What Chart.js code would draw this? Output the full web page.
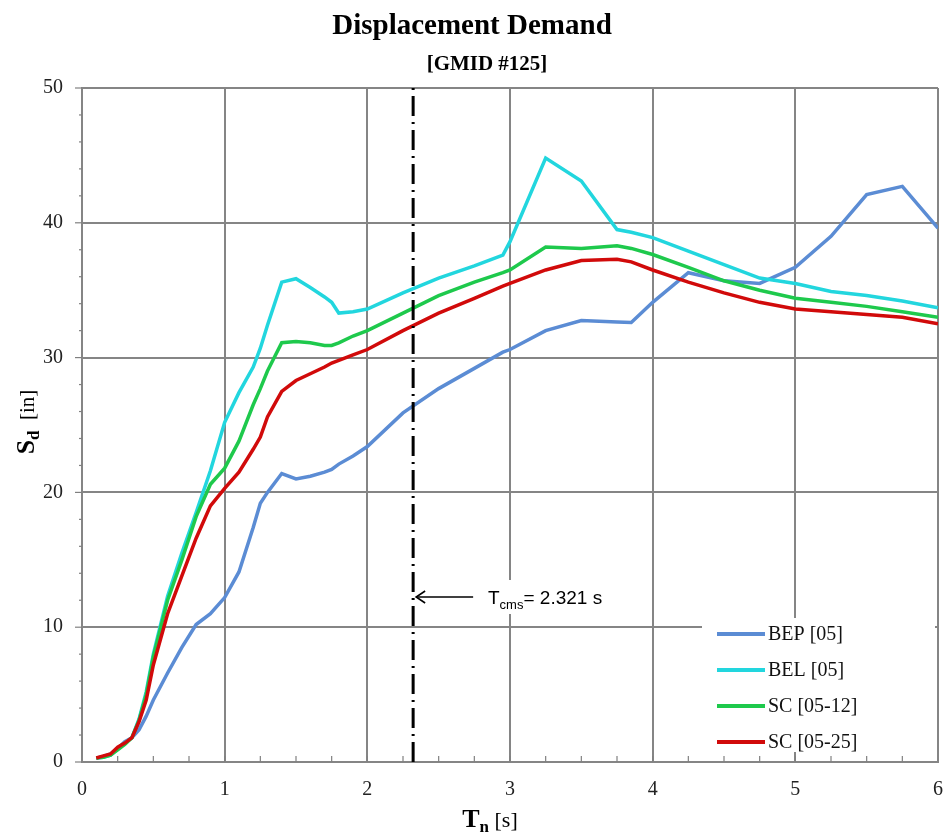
<!DOCTYPE html>
<html>
<head>
<meta charset="utf-8">
<script src="https://cdn.jsdelivr.net/npm/chart.js@4.4.1/dist/chart.umd.min.js"></script>
<style>
  html, body { margin: 0; padding: 0; background: #fff; }
  #wrap { width: 946px; height: 839px; position: relative; }
</style>
</head>
<body>
<div id="wrap"><canvas id="chart"></canvas></div>
<script>
// periods Tn [s]
const T_N = [0.1,0.15,0.2,0.25,0.3,0.35,0.4,0.45,0.5,0.6,0.7,0.8,0.9,1.0,1.1,1.2,1.25,1.3,1.4,1.5,
  1.6,1.7,1.75,1.8,1.9,2.0,2.25,2.5,2.75,2.95,3.0,3.25,3.5,3.75,3.85,4.0,4.25,4.5,4.75,5.0,
  5.25,5.5,5.75,6.0];

// Sd [in]
const BEP_05 = [0.3,0.4,0.6,1.0,1.5,1.8,2.4,3.4,4.6,6.6,8.5,10.2,11.0,12.2,14.1,17.4,19.2,20.0,21.4,21.0,
  21.2,21.5,21.7,22.1,22.7,23.4,25.9,27.7,29.2,30.4,30.6,32.0,32.75,32.65,32.6,34.1,36.3,35.7,35.5,36.7,
  39.0,42.1,42.7,39.6];
const BEL_05 = [0.3,0.35,0.5,1.0,1.4,1.8,3.2,5.2,8.0,12.3,15.5,18.5,21.6,25.2,27.4,29.3,30.7,32.4,35.6,35.85,
  35.2,34.5,34.1,33.3,33.4,33.6,34.8,35.9,36.8,37.6,38.6,44.8,43.1,39.5,39.3,38.9,37.9,36.9,35.9,35.5,
  34.9,34.6,34.2,33.7];
const SC_05_12 = [0.3,0.35,0.5,0.9,1.3,1.8,3.1,5.0,7.8,12.0,15.0,18.2,20.6,21.8,23.8,26.5,27.7,29.0,31.1,31.2,
  31.1,30.9,30.9,31.1,31.6,32.0,33.3,34.6,35.6,36.3,36.5,38.2,38.1,38.3,38.1,37.65,36.7,35.7,35.0,34.4,
  34.1,33.8,33.4,33.0];
const SC_05_25 = [0.3,0.45,0.6,1.1,1.4,1.8,3.0,4.6,7.2,11.0,13.8,16.6,19.0,20.3,21.5,23.2,24.1,25.6,27.5,28.3,
  28.8,29.3,29.6,29.8,30.2,30.6,32.0,33.3,34.4,35.3,35.5,36.5,37.2,37.3,37.1,36.5,35.6,34.8,34.1,33.6,
  33.4,33.2,33.0,32.5];

const SERIES_LABELS = ["BEP [05]", "BEL [05]", "SC [05-12]", "SC [05-25]"];
const SERIES_COLORS = ["#5b8cd4", "#22d6de", "#1ec94c", "#d10a0a"];

const T_CMS = 2.321;
const X_TICKS = [0, 1, 2, 3, 4, 5, 6];
const Y_TICKS = [0, 10, 20, 30, 40, 50];

const SERIF = "'Liberation Serif', 'DejaVu Serif', serif";
const SANS = "'Liberation Sans', 'Open Sans', sans-serif";

function pts(ys){ return T_N.map((t, i) => ({ x: t, y: ys[i] })); }

const allSeries = [BEP_05, BEL_05, SC_05_12, SC_05_25];
const datasets = allSeries.map((ys, i) => ({
  label: SERIES_LABELS[i],
  data: pts(ys),
  borderColor: SERIES_COLORS[i],
  borderWidth: 3.5,
  pointRadius: 0,
  tension: 0,
  order: 4 - i
}));
datasets.push({
  label: "Tcms",
  data: [{ x: T_CMS, y: 0 }, { x: T_CMS, y: 50 }],
  borderColor: "#000",
  borderWidth: 3,
  borderDash: [20, 6, 2, 6],
  pointRadius: 0,
  order: 0
});

// titles, axis titles with subscripts, minor ticks, legend, annotation
const decor = {
  id: "decor",
  beforeDatasetsDraw(chart){
    const { ctx, scales: { x, y } } = chart;
    ctx.save();
    ctx.strokeStyle = "#808080";
    ctx.lineWidth = 1.2;
    // x minor ticks (inside)
    for (let v = 0.25; v < 6; v += 0.25){
      const px = x.getPixelForValue(v);
      ctx.beginPath(); ctx.moveTo(px, y.bottom); ctx.lineTo(px, y.bottom - 6); ctx.stroke();
    }
    // y ticks (outside)
    for (let v = 0; v <= 50; v += 2){
      const py = y.getPixelForValue(v);
      const len = v % 10 === 0 ? 7 : 3;
      ctx.beginPath(); ctx.moveTo(x.left, py); ctx.lineTo(x.left - len, py); ctx.stroke();
    }
    ctx.restore();
  },
  afterDraw(chart){
    const { ctx, scales: { x, y } } = chart;
    ctx.save();
    ctx.fillStyle = "#000";
    ctx.textBaseline = "alphabetic";

    // main titles
    ctx.textAlign = "center";
    ctx.font = "bold 29px " + SERIF;
    ctx.fillText("Displacement Demand", 472, 34);
    ctx.font = "bold 21px " + SERIF;
    ctx.fillText("[GMID #125]", 487, 70);

    // x axis title: T_n [s]
    ctx.textAlign = "left";
    const xb = 827;
    ctx.font = "bold 26px " + SERIF;
    const wT = ctx.measureText("T").width;
    ctx.font = "bold 17px " + SERIF;
    const wn = ctx.measureText("n").width;
    ctx.font = "22px " + SERIF;
    const ws = ctx.measureText(" [s]").width;
    let cx = 490 - (wT + wn + ws) / 2;
    ctx.font = "bold 26px " + SERIF; ctx.fillText("T", cx, xb); cx += wT;
    ctx.font = "bold 17px " + SERIF; ctx.fillText("n", cx, xb + 5); cx += wn;
    ctx.font = "22px " + SERIF; ctx.fillText(" [s]", cx, xb);

    // y axis title: S_d [in]
    ctx.save();
    ctx.translate(34, 422);
    ctx.rotate(-Math.PI / 2);
    ctx.font = "bold 26px " + SERIF;
    const wS = ctx.measureText("S").width;
    ctx.font = "bold 17px " + SERIF;
    const wd = ctx.measureText("d").width;
    ctx.font = "21px " + SERIF;
    const wi = ctx.measureText("  [in]").width;
    let cy = -(wS + wd + wi) / 2;
    ctx.font = "bold 26px " + SERIF; ctx.fillText("S", cy, 0); cy += wS;
    ctx.font = "bold 17px " + SERIF; ctx.fillText("d", cy, 5); cy += wd;
    ctx.font = "21px " + SERIF; ctx.fillText("  [in]", cy, 0);
    ctx.restore();

    // annotation
    const lx = x.getPixelForValue(T_CMS);
    const ay = 597;
    ctx.fillStyle = "#fff";
    ctx.fillRect(478, 580, 170, 34);
    ctx.strokeStyle = "#000";
    ctx.lineWidth = 1.6;
    ctx.beginPath(); ctx.moveTo(lx + 3, ay); ctx.lineTo(lx + 60, ay); ctx.stroke();
    ctx.beginPath(); ctx.moveTo(lx + 12, ay - 6); ctx.lineTo(lx + 3, ay); ctx.lineTo(lx + 12, ay + 6); ctx.stroke();
    ctx.fillStyle = "#000";
    let tx = 488;
    ctx.font = "19px " + SANS; ctx.fillText("T", tx, 604); tx += ctx.measureText("T").width;
    ctx.font = "13px " + SANS; ctx.fillText("cms", tx, 609); tx += ctx.measureText("cms").width;
    ctx.font = "19px " + SANS; ctx.fillText("= 2.321 s", tx, 604);

    // legend
    ctx.fillStyle = "#fff";
    ctx.fillRect(702, 618, 233, 134);
    ctx.font = "20px " + SERIF;
    SERIES_LABELS.forEach((lab, i) => {
      const ly = 634 + i * 36;
      ctx.strokeStyle = SERIES_COLORS[i];
      ctx.lineWidth = 4;
      ctx.beginPath(); ctx.moveTo(717, ly); ctx.lineTo(765, ly); ctx.stroke();
      ctx.fillStyle = "#111";
      ctx.textBaseline = "middle";
      ctx.fillText(lab, 768, ly + 1);
    });
    ctx.restore();
  }
};

new Chart(document.getElementById("chart"), {
  type: "line",
  data: { datasets },
  options: {
    responsive: true,
    maintainAspectRatio: false,
    animation: false,
    layout: { padding: { left: 0, right: 8, top: 88, bottom: 0 } },
    plugins: { legend: { display: false }, tooltip: { enabled: false } },
    scales: {
      x: {
        type: "linear",
        min: 0, max: 6,
        afterFit: s => { s.height = 77; s.paddingLeft = 0; s.paddingRight = 0; },
        afterBuildTicks: s => { s.ticks = X_TICKS.map(v => ({ value: v })); },
        grid: { color: "#858585", lineWidth: 2, drawTicks: false },
        border: { color: "#858585", width: 2 },
        ticks: { color: "#222", padding: 16, font: { family: SERIF, size: 20 } }
      },
      y: {
        type: "linear",
        min: 0, max: 50,
        afterFit: s => { s.width = 82; s.paddingTop = 0; s.paddingBottom = 0; },
        afterBuildTicks: s => { s.ticks = Y_TICKS.map(v => ({ value: v })); },
        grid: { color: "#858585", lineWidth: 2, drawTicks: false },
        border: { color: "#858585", width: 2 },
        ticks: { color: "#222", padding: 19, font: { family: SERIF, size: 20 } }
      }
    }
  },
  plugins: [decor]
});
</script>
</body>
</html>
